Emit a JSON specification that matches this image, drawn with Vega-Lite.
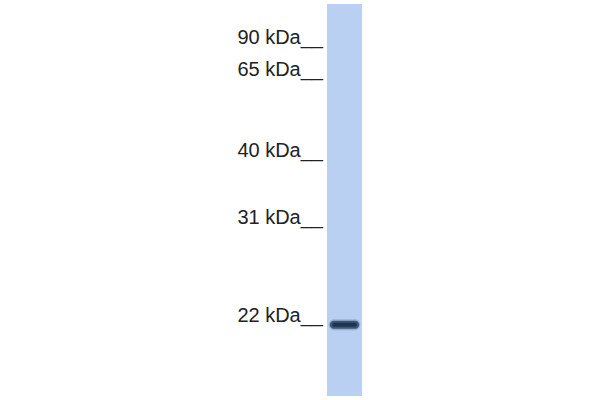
{
  "$schema": "https://vega.github.io/schema/vega-lite/v6.json",
  "width": 35,
  "height": 392,
  "autosize": {"type": "none"},
  "padding": {"left": 327, "right": 238, "top": 4, "bottom": 4},
  "background": "white",
  "config": {"view": {"stroke": null}},
  "datasets": {
    "lanes": [{"lane": "Sample", "top": 0, "bottom": 98}],
    "markers": [
      {"kda": 90, "label": "90 kDa__", "migration": 10.0},
      {"kda": 65, "label": "65 kDa__", "migration": 18.1},
      {"kda": 40, "label": "40 kDa__", "migration": 38.25},
      {"kda": 31, "label": "31 kDa__", "migration": 55.0},
      {"kda": 22, "label": "22 kDa__", "migration": 79.5}
    ],
    "bands": [{"lane": "Sample", "kda": 22, "migration": 80.2}]
  },
  "layer": [
    {
      "data": {"name": "lanes"},
      "mark": {"type": "rect", "color": "#bad0f3"},
      "encoding": {
        "x": {"field": "lane", "type": "nominal", "axis": null,
          "scale": {"domain": ["Sample"], "paddingInner": 0, "paddingOuter": 0}},
        "y": {"field": "top", "type": "quantitative", "axis": null,
          "scale": {"domain": [0, 98], "nice": false, "zero": false, "reverse": true}},
        "y2": {"field": "bottom"}
      }
    },
    {
      "data": {"name": "bands"},
      "mark": {"type": "rect", "color": "#7088aa", "opacity": 0.45, "width": {"band": 0.9}, "height": 11, "cornerRadius": 5.5},
      "encoding": {
        "x": {"field": "lane", "type": "nominal"},
        "y": {"field": "migration", "type": "quantitative"}
      }
    },
    {
      "data": {"name": "bands"},
      "mark": {"type": "rect", "color": "#3d5676", "width": {"band": 0.84}, "height": 8, "cornerRadius": 4},
      "encoding": {
        "x": {"field": "lane", "type": "nominal"},
        "y": {"field": "migration", "type": "quantitative"}
      }
    },
    {
      "data": {"name": "bands"},
      "mark": {"type": "rect", "color": "#1f344e", "width": {"band": 0.7}, "height": 4, "cornerRadius": 2},
      "encoding": {
        "x": {"field": "lane", "type": "nominal"},
        "y": {"field": "migration", "type": "quantitative"}
      }
    },
    {
      "data": {"name": "markers"},
      "mark": {"type": "text", "align": "right", "baseline": "alphabetic", "dx": -4,
        "font": "Liberation Sans", "fontSize": 20, "color": "#222222"},
      "encoding": {
        "x": {"datum": "Sample", "type": "nominal", "bandPosition": 0},
        "y": {"field": "migration", "type": "quantitative"},
        "text": {"field": "label"}
      }
    }
  ]
}
